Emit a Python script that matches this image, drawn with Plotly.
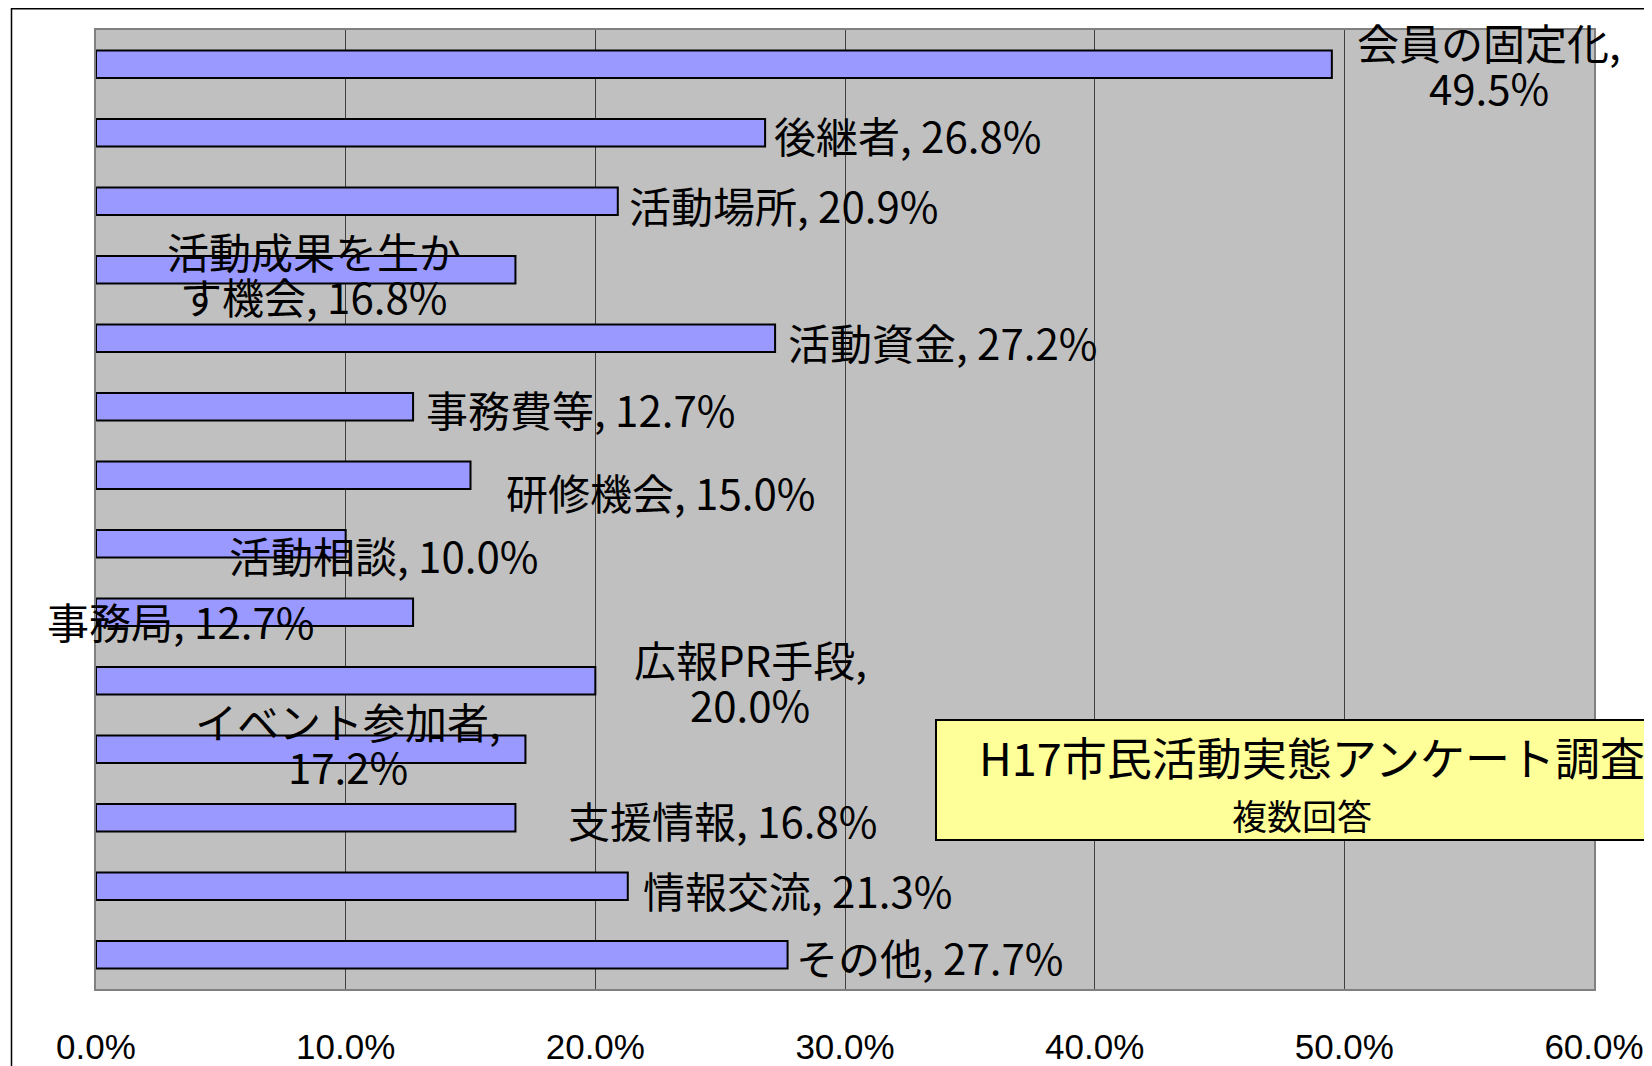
import plotly.graph_objects as go

# ---- data ----
categories = ["会員の固定化", "後継者", "活動場所", "活動成果を生かす機会", "活動資金",
              "事務費等", "研修機会", "活動相談", "事務局", "広報PR手段",
              "イベント参加者", "支援情報", "情報交流", "その他"]
values = [49.5, 26.8, 20.9, 16.8, 27.2, 12.7, 15.0, 10.0, 12.7, 20.0, 17.2, 16.8, 21.3, 27.7]
tick_vals = [0, 10, 20, 30, 40, 50, 60]
tick_text = ["0.0%", "10.0%", "20.0%", "30.0%", "40.0%", "50.0%", "60.0%"]
box_title = "H17市民活動実態アンケート調査"
box_sub = "複数回答"

# ---- label layout (manually placed labels, as in the original) ----
label_x = [55.8, 32.5, 27.55, 8.73, 33.9, 19.4, 22.6, 11.5, 3.4, 26.2, 10.1, 25.1, 28.1, 33.4]
label_dy = [0, 2, 3, 3, 3, 2, 16, 11, 8, 0, -6, 2, 3, 2]
wrap_after = {0: 7, 3: 7, 9: 7, 10: 8}

FONT = "Noto Sans CJK JP, Liberation Sans, sans-serif"
TICK_FONT = "Liberation Sans, Arial, sans-serif"
PAGE_OFF = 8  # default body margin of the html page
W, H = 1652 - PAGE_OFF, 1066 - PAGE_OFF
# plot area in page pixels: x 96..1594, y 30..989
L, R, T, B = 96 - PAGE_OFF, 58, 30 - PAGE_OFF, 77
pw, ph = W - L - R, H - T - B

def px(xpage):
    return (xpage - PAGE_OFF - L) / pw

def py(ypage):
    return (H - B - (ypage - PAGE_OFF)) / ph

fig = go.Figure(go.Bar(
    x=values, y=categories, orientation="h", width=0.4,
    marker=dict(color="#9999FF", line=dict(color="black", width=2)),
    hoverinfo="skip",
))

annotations = []
for i, (c, v) in enumerate(zip(categories, values)):
    text = f"{c}, {v:.1f}%"
    if i in wrap_after:
        k = wrap_after[i]
        lines = [text[:k].strip(), text[k:].strip()]
    else:
        lines = [text]
    n = len(lines)
    for j, ln in enumerate(lines):
        off = (j - (n - 1) / 2) * 45
        annotations.append(dict(
            x=label_x[i], y=c, xref="x", yref="y", text=ln, showarrow=False,
            xanchor="center", yanchor="middle", yshift=-(label_dy[i] + off),
            font=dict(family=FONT, size=42, color="black"),
        ))

annotations.append(dict(
    x=px(977), y=py(756), xref="paper", yref="paper", text=box_title, showarrow=False,
    xanchor="left", yanchor="middle", font=dict(family=FONT, size=45, color="black"),
))
annotations.append(dict(
    x=px(1302), y=py(814), xref="paper", yref="paper", text=box_sub, showarrow=False,
    xanchor="center", yanchor="middle", font=dict(family=FONT, size=35, color="black"),
))

shapes = [
    # outer chart frame
    dict(type="rect", xref="paper", yref="paper", x0=px(11.5), x1=1.3, y0=py(8.8), y1=-0.5,
         line=dict(color="black", width=1.5), fillcolor="rgba(0,0,0,0)", layer="below"),
    # yellow note box
    dict(type="rect", xref="paper", yref="paper", x0=px(936), x1=px(1720), y0=py(720), y1=py(840),
         line=dict(color="black", width=2), fillcolor="#FFFF99", layer="above"),
]

fig.update_layout(
    width=W, height=H,
    margin=dict(l=L, r=R, t=T, b=B, pad=0, autoexpand=False),
    paper_bgcolor="white", plot_bgcolor="#C0C0C0",
    showlegend=False, bargap=0.6,
    annotations=annotations, shapes=shapes,
    xaxis=dict(range=[0, 60], tickvals=tick_vals, ticktext=tick_text,
               showgrid=True, gridcolor="#404040", gridwidth=1,
               showline=True, linecolor="#808080", linewidth=2, mirror=True,
               zeroline=False, ticks="", ticklabelstandoff=26, automargin=False,
               tickfont=dict(family=TICK_FONT, size=35, color="black"), fixedrange=True),
    yaxis=dict(categoryorder="array", categoryarray=categories[::-1],
               range=[-0.5, len(categories) - 0.5], autorange=False,
               showticklabels=False, showgrid=False, ticks="",
               showline=True, linecolor="#808080", linewidth=2, mirror=True,
               zeroline=False, automargin=False, fixedrange=True),
)

fig.write_html("out.html")
